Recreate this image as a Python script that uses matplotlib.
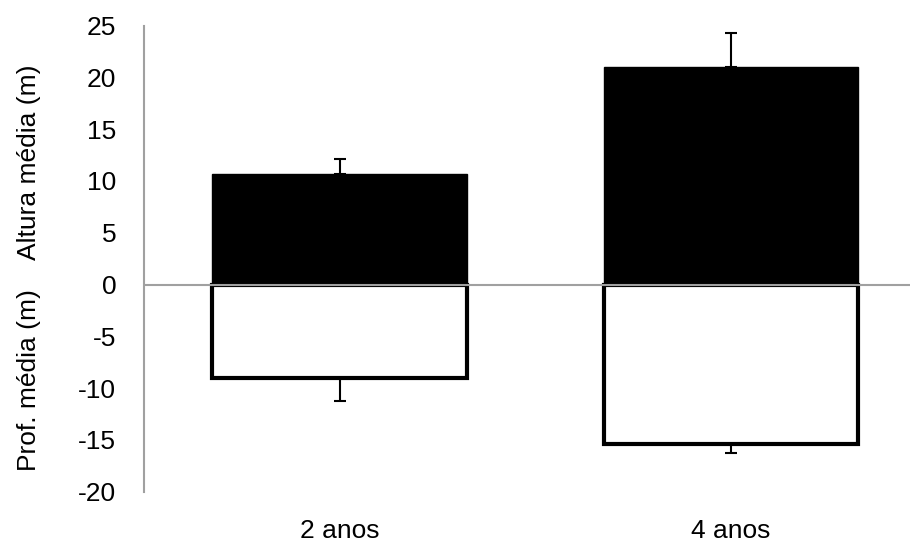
import matplotlib.pyplot as plt

categorias = ['2 anos', '4 anos']
altura = [10.7, 21.0]
altura_erro = [1.45, 3.3]
prof = [-9.0, -15.4]
prof_erro = [2.2, 0.85]

plt.rcParams['font.family'] = ['Liberation Sans', 'DejaVu Sans']
plt.rcParams['axes.unicode_minus'] = False

W, H = 910, 545
fig = plt.figure(figsize=(W / 100, H / 100), dpi=100)
# área do gráfico em pixels: esquerda 144, topo 25.5, base 491.7, direita passa da borda
x0, x1 = 144, 926.7
y_top, y_bot = 25.5, 491.7
ax = fig.add_axes([x0 / W, 1 - y_bot / H, (x1 - x0) / W, (y_bot - y_top) / H])

x = range(len(categorias))
ax.bar(x, altura, width=0.65, color='black', edgecolor='black', zorder=2)
ax.errorbar(x, altura, yerr=[[0, 0], altura_erro], fmt='none', ecolor='black',
            elinewidth=1.5, capsize=4.5, capthick=1.5, zorder=3)
ax.bar(x, prof, width=0.65, color='white', edgecolor='black', linewidth=3, zorder=2)
ax.errorbar(x, prof, yerr=[prof_erro, [0, 0]], fmt='none', ecolor='black',
            elinewidth=1.5, capsize=4.5, capthick=1.5, zorder=3)

ax.axhline(0, color='#a0a0a0', linewidth=1.5, zorder=4)
ax.set_xlim(-0.5, 1.5)
ax.set_ylim(-20, 25)
ax.set_yticks(range(-20, 26, 5))
ax.set_xticks(list(x))
ax.set_xticklabels(categorias)
ax.tick_params(axis='both', length=0, labelsize=19)
ax.tick_params(axis='y', pad=20)
ax.tick_params(axis='x', pad=20)

for s in ['top', 'right', 'bottom']:
    ax.spines[s].set_visible(False)
ax.spines['left'].set_color('#a0a0a0')
ax.spines['left'].set_linewidth(1.5)

fig.text(29 / W, 1 - 162 / H, 'Altura média (m)', rotation=90, fontsize=19,
         ha='center', va='center')
fig.text(29 / W, 1 - 380 / H, 'Prof. média (m)', rotation=90, fontsize=19,
         ha='center', va='center')

fig.savefig('out.png', dpi=100)
